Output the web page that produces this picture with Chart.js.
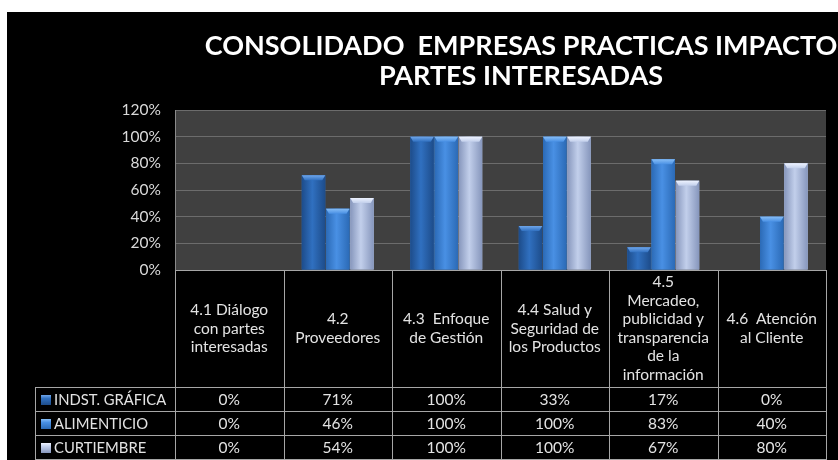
<!DOCTYPE html>
<html>
<head>
<meta charset="utf-8">
<script src="https://cdn.jsdelivr.net/npm/chart.js@4"></script>
<style>
  html, body { margin: 0; padding: 0; background: #fff; }
  #wrap { width: 838px; height: 460px; }
</style>
</head>
<body>
<div id="wrap"><canvas id="myChart" width="838" height="460"></canvas></div>
<script>
// datos
const categorias = [
  ['4.1 Diálogo', 'con partes', 'interesadas'],
  ['4.2', 'Proveedores'],
  ['4.3  Enfoque', 'de Gestión'],
  ['4.4 Salud y', 'Seguridad de', 'los Productos'],
  ['4.5', 'Mercadeo,', 'publicidad y', 'transparencia', 'de la', 'información'],
  ['4.6  Atención', 'al Cliente']
]
const series = ['INDST. GRÁFICA', 'ALIMENTICIO', 'CURTIEMBRE']
const indGrafica = [0, 71, 100, 33, 17, 0]
const alimenticio = [0, 46, 100, 100, 83, 40]
const curtiembre = [0, 54, 100, 100, 67, 80]
const yMax = 120
const yPaso = 20
const titulo = ['CONSOLIDADO  EMPRESAS PRACTICAS IMPACTO', 'PARTES INTERESADAS']

// colores de cada serie: borde, centro, bisel
const colores = [
  ['#1d4c8a', '#3070c0', '#6fa6ea'],
  ['#2b6ab6', '#4990e4', '#86bdf6'],
  ['#8696bc', '#c2cfeb', '#eef3ff']
]
const fuente = 'Lato, "Open Sans", sans-serif'
const ctx = document.getElementById('myChart')

const fondo = {
  id: 'fondo',
  beforeDraw(chart) {
    const c = chart.ctx, a = chart.chartArea
    c.save()
    c.fillStyle = '#fff'
    c.fillRect(0, 0, chart.width, chart.height)
    c.fillStyle = '#000'
    c.fillRect(7, 12, chart.width - 7, chart.height - 12)
    c.fillStyle = '#404040'
    c.fillRect(a.left, a.top, a.right - a.left, a.bottom - a.top)
    c.restore()
  }
}

// barras con sombreado y bisel arriba
const barras3d = {
  id: 'barras3d',
  afterDatasetsDraw(chart) {
    const c = chart.ctx
    c.save()
    chart.data.datasets.forEach((ds, i) => {
      const col = colores[i]
      chart.getDatasetMeta(i).data.forEach(el => {
        const h = el.base - el.y
        if (h < 1) return
        const l = el.x - el.width / 2, r = el.x + el.width / 2
        const g = c.createLinearGradient(l, 0, r, 0)
        g.addColorStop(0, col[0])
        g.addColorStop(0.45, col[1])
        g.addColorStop(1, col[0])
        c.fillStyle = g
        c.fillRect(l, el.y, el.width, h)
        const b = Math.min(5, h)
        const gb = c.createLinearGradient(0, el.y, 0, el.y + b)
        gb.addColorStop(0, col[2])
        gb.addColorStop(1, col[1])
        c.fillStyle = gb
        c.beginPath()
        c.moveTo(l, el.y)
        c.lineTo(r, el.y)
        c.lineTo(r - 3, el.y + b)
        c.lineTo(l + 3, el.y + b)
        c.closePath()
        c.fill()
      })
    })
    c.restore()
  }
}

// titulo y tabla de datos debajo del eje x
const tabla = {
  id: 'tabla',
  afterDraw(chart) {
    const c = chart.ctx, a = chart.chartArea, x = chart.scales.x
    const medio = (x.getPixelForValue(1) - x.getPixelForValue(0)) / 2
    const top = a.bottom
    const hdr = top + 117
    const fin = chart.height - 1
    const filaH = (fin - hdr) / 3
    const izq = 35
    c.save()
    // titulo
    c.fillStyle = '#fff'
    c.font = 'bold 27px ' + fuente
    c.textAlign = 'center'
    c.textBaseline = 'middle'
    c.fillText(titulo[0], 521, 46)
    c.fillText(titulo[1], 521, 76)

    // lineas
    c.strokeStyle = '#a6a6a6'
    c.lineWidth = 1
    c.beginPath()
    c.moveTo(a.left, top + 0.5); c.lineTo(a.right + 1, top + 0.5)
    for (let k = 0; k <= 3; k++) {
      const yy = Math.round(hdr + k * filaH) + 0.5
      c.moveTo(izq, yy); c.lineTo(a.right + 1, yy)
    }
    c.moveTo(izq + 0.5, hdr); c.lineTo(izq + 0.5, fin)
    for (let i = 0; i <= categorias.length; i++) {
      const xx = Math.round(x.getPixelForValue(i) - medio) + 0.5
      c.moveTo(xx, top); c.lineTo(xx, fin)
    }
    c.stroke()

    // encabezados
    c.fillStyle = '#e3e3e3'
    c.font = '15.5px ' + fuente
    const lh = 18.5
    categorias.forEach((lineas, i) => {
      const cx = x.getPixelForValue(i)
      const y0 = (top + hdr) / 2 - (lineas.length - 1) * lh / 2
      lineas.forEach((t, j) => c.fillText(t, cx, y0 + j * lh))
    })

    // filas
    const valores = chart.data.datasets.map(d => d.data)
    series.forEach((nom, s) => {
      const cy = hdr + filaH * s + filaH / 2 + 1
      const col = colores[s]
      const g = c.createLinearGradient(0, cy - 5, 0, cy + 5)
      g.addColorStop(0, col[2])
      g.addColorStop(0.35, col[1])
      g.addColorStop(1, col[0])
      c.fillStyle = g
      c.fillRect(41, cy - 5, 10, 10)
      c.fillStyle = '#e3e3e3'
      c.textAlign = 'left'
      c.font = '14.8px ' + fuente
      c.fillText(nom, 54, cy)
      c.font = '15.5px ' + fuente
      c.textAlign = 'center'
      valores[s].forEach((v, i) => c.fillText(v + '%', x.getPixelForValue(i), cy))
    })
    c.restore()
  }
}

const grafico = new Chart(ctx, {
  type: 'bar',
  data: {
    labels: categorias.map(l => l.join(' ')),
    datasets: [
      { label: series[0], data: indGrafica, backgroundColor: colores[0][1] },
      { label: series[1], data: alimenticio, backgroundColor: colores[1][1] },
      { label: series[2], data: curtiembre, backgroundColor: colores[2][1] }
    ]
  },
  options: {
    responsive: false,
    animation: false,
    layout: { padding: { left: 7, right: 12, top: 110, bottom: 0 } },
    plugins: {
      legend: { display: false },
      title: { display: false },
      tooltip: { enabled: false }
    },
    datasets: {
      bar: { categoryPercentage: 0.67, barPercentage: 0.97 }
    },
    scales: {
      x: {
        ticks: { display: false },
        grid: { display: false },
        border: { display: false },
        afterFit: s => { s.height = 190 }
      },
      y: {
        min: 0,
        max: yMax,
        afterFit: s => { s.width = 168 },
        ticks: {
          stepSize: yPaso,
          padding: 14,
          color: '#d9d9d9',
          font: { family: fuente, size: 15.5 },
          callback: v => v + '%'
        },
        grid: { color: '#6c6c6c', drawTicks: false },
        border: { color: '#8a8a8a' }
      }
    }
  },
  plugins: [fondo, barras3d, tabla]
})
</script>
</body>
</html>
